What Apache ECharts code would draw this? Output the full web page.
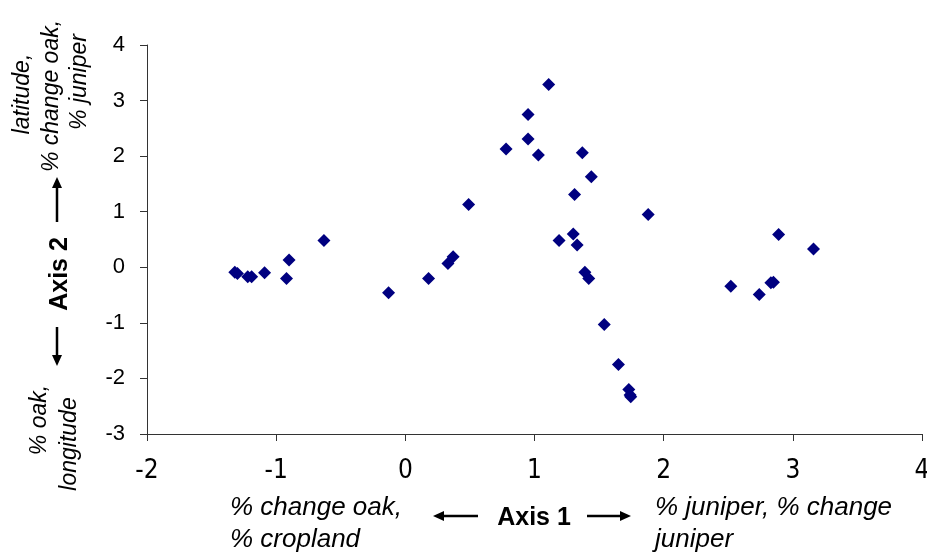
<!DOCTYPE html>
<html>
<head>
<meta charset="utf-8">
<script src="https://cdn.jsdelivr.net/npm/echarts@6/dist/echarts.min.js"></script>
<style>html,body{margin:0;padding:0;background:#fff;overflow:hidden;width:927px;height:556px;}#c{width:927px;height:556px;}</style>
</head>
<body>
<div id="c"></div>
<script>
// Ordination scores (Axis 1, Axis 2)
const axis1 = [-1.32,-1.30,-1.22,-1.19,-1.09,-0.90,-0.92,-0.63,-0.13,0.18,0.33,0.37,0.49,0.78,0.95,0.95,1.03,1.11,1.37,1.44,1.31,1.88,1.30,1.19,1.33,1.39,1.42,1.54,1.65,1.73,1.74,1.745,2.89,3.16,2.52,2.74,2.83,2.85];
const axis2 = [-0.09,-0.11,-0.17,-0.17,-0.10,0.13,-0.20,0.48,-0.46,-0.20,0.07,0.19,1.13,2.13,2.75,2.31,2.02,3.29,2.06,1.63,1.31,0.95,0.60,0.48,0.40,-0.09,-0.20,-1.03,-1.75,-2.20,-2.30,-2.33,0.59,0.33,-0.34,-0.49,-0.28,-0.27];
const xTicks = {min: -2, max: 4, step: 1};
const yTicks = {min: -3, max: 4, step: 1};
const xTitle = "Axis 1";
const yTitle = "Axis 2";
const xLeftNote = ["% change oak,", "% cropland"];
const xRightNote = ["% juniper, % change", "juniper"];
const yTopNote = ["latitude,", "% change oak,", "% juniper"];
const yBottomNote = ["% oak,", "longitude"];

const pts = axis1.map((v, i) => [v, axis2[i]]);
const chart = echarts.init(document.getElementById('c'), null, {width: 927, height: 556});
const sans = '"Liberation Sans", Arial, sans-serif';
const narrow = '"Liberation Sans Narrow", "Arial Narrow", "DejaVu Sans Condensed", "Liberation Sans", sans-serif';
const ink = '#000';

function hArrow(x1, x2, y, dir) {
  const tip = dir < 0 ? x1 : x2;
  const base = tip - dir * 11;
  return [
    {type: 'line', shape: {x1: dir < 0 ? base : x1, y1: y, x2: dir < 0 ? x2 : base, y2: y}, style: {stroke: ink, lineWidth: 2.5}},
    {type: 'polygon', shape: {points: [[tip, y], [base, y - 5], [base, y + 5]]}, style: {fill: ink}}
  ];
}
function vArrow(x, y1, y2, dir) {
  const tip = dir < 0 ? y1 : y2;
  const base = tip - dir * 11;
  return [
    {type: 'line', shape: {x1: x, y1: dir < 0 ? base : y1, x2: x, y2: dir < 0 ? y2 : base}, style: {stroke: ink, lineWidth: 2.5}},
    {type: 'polygon', shape: {points: [[x, tip], [x - 5, base], [x + 5, base]]}, style: {fill: ink}}
  ];
}
function txt(s, x, y, opts) {
  return Object.assign({type: 'text', x: x, y: y, style: {text: s, fill: ink, font: opts.font, textAlign: opts.align || 'left', textVerticalAlign: 'middle'}}, opts.rot ? {rotation: opts.rot} : {});
}

const g = [];
g.push(txt(xLeftNote[0], 230, 508, {font: 'italic 26px ' + sans}));
g.push(txt(xLeftNote[1], 230, 540, {font: 'italic 26px ' + sans}));
g.push(txt(xRightNote[0], 655, 508, {font: 'italic 26px ' + sans}));
g.push(txt(xRightNote[1], 655, 540, {font: 'italic 26px ' + sans}));
g.push(txt(xTitle, 534, 518, {font: 'bold 25px ' + sans, align: 'center'}));
g.push(...hArrow(433, 478, 516, -1));
g.push(...hArrow(587, 631, 516, 1));
const R = Math.PI / 2;
g.push(txt(yTopNote[0], 23, 94, {font: 'italic 23px ' + sans, align: 'center', rot: R}));
g.push(txt(yTopNote[1], 52, 96, {font: 'italic 23px ' + sans, align: 'center', rot: R}));
g.push(txt(yTopNote[2], 80, 82, {font: 'italic 23px ' + sans, align: 'center', rot: R}));
g.push(txt(yTitle, 60, 274, {font: 'bold 25px ' + sans, align: 'center', rot: R}));
g.push(...vArrow(57, 177, 222, -1));
g.push(...vArrow(57, 327, 366, 1));
g.push(txt(yBottomNote[0], 40, 420, {font: 'italic 23px ' + sans, align: 'center', rot: R}));
g.push(txt(yBottomNote[1], 70, 444, {font: 'italic 23px ' + sans, align: 'center', rot: R}));

chart.setOption({
  animation: false,
  backgroundColor: '#fff',
  grid: {left: 147, right: 5, top: 45, bottom: 122, containLabel: false, outerBoundsMode: 'none'},
  xAxis: {
    type: 'value', min: xTicks.min, max: xTicks.max, interval: xTicks.step,
    splitLine: {show: false},
    axisLine: {show: true, onZero: false, lineStyle: {color: '#333', width: 1}},
    axisTick: {show: true, inside: false, length: 7, lineStyle: {color: '#333'}},
    axisLabel: {color: ink, fontSize: 26, fontFamily: narrow, margin: 24}
  },
  yAxis: {
    type: 'value', min: yTicks.min, max: yTicks.max, interval: yTicks.step,
    splitLine: {show: false},
    axisLine: {show: true, onZero: false, lineStyle: {color: '#333', width: 1}},
    axisTick: {show: true, inside: false, length: 7, lineStyle: {color: '#333'}},
    axisLabel: {color: ink, fontSize: 22, fontFamily: sans, margin: 22}
  },
  series: [{
    type: 'scatter', data: pts, symbol: 'diamond', symbolSize: 13,
    itemStyle: {color: '#000080', opacity: 1}
  }],
  graphic: g
});
</script>
</body>
</html>
